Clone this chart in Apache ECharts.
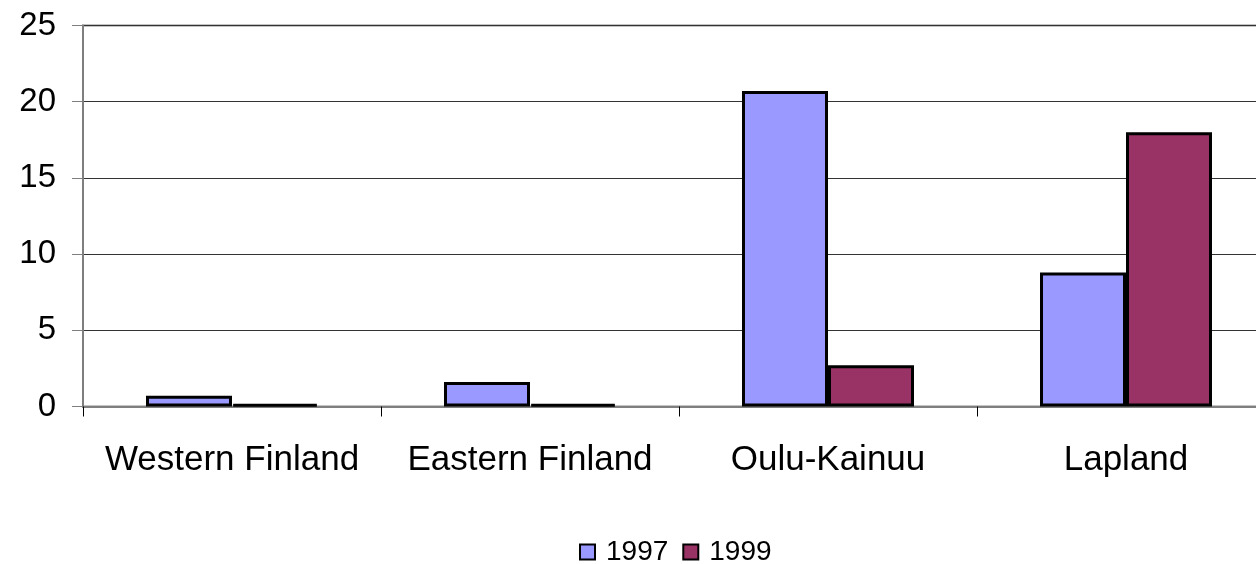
<!DOCTYPE html>
<html>
<head>
<meta charset="utf-8">
<script src="https://cdn.jsdelivr.net/npm/echarts@6/dist/echarts.min.js"></script>
<style>
  html, body { margin: 0; padding: 0; background: #fff; overflow: hidden; }
  /* the plot area runs a little past the right edge of the window */
  #chart { width: 1280px; height: 564px; }
</style>
</head>
<body>
<div id="chart"></div>
<script>
// Regions and yearly values
const regions = ['Western Finland', 'Eastern Finland', 'Oulu-Kainuu', 'Lapland'];
const years = ['1997', '1999'];
const values1997 = [0.7, 1.6, 20.7, 8.8];
const values1999 = [0.15, 0.15, 2.7, 18.0];
const yTicks = { min: 0, max: 25, interval: 5 };

const FONT = '"Liberation Sans", Arial, sans-serif';
const chart = echarts.init(document.getElementById('chart'), null, { renderer: 'canvas' });

chart.setOption({
  animation: false,
  backgroundColor: '#ffffff',
  textStyle: { fontFamily: FONT },
  grid: {
    left: 83, top: 25.5, width: 1192, height: 381,
    show: true, borderColor: '#8a8a8a', borderWidth: 2, backgroundColor: 'transparent'
  },
  legend: {
    data: years,
    top: 533,
    left: 574,
    icon: 'rect',
    itemWidth: 15,
    itemHeight: 15,
    itemGap: 14,
    textStyle: { fontSize: 28, color: '#000', fontFamily: FONT, padding: [0, 0, 0, 6] }
  },
  xAxis: {
    type: 'category',
    data: regions,
    axisLine: { show: true, lineStyle: { color: '#7f7f7f', width: 2 } },
    axisTick: { show: true, length: 10, interval: 0, lineStyle: { color: '#000', width: 1 } },
    axisLabel: { fontSize: 35, color: '#000', margin: 36, interval: 0, fontFamily: FONT },
    splitLine: { show: false }
  },
  yAxis: {
    type: 'value',
    min: yTicks.min, max: yTicks.max, interval: yTicks.interval,
    axisLine: { show: true, lineStyle: { color: '#7f7f7f', width: 2 } },
    axisTick: { show: true, length: 11, lineStyle: { color: '#7f7f7f', width: 1 } },
    axisLabel: { fontSize: 33, color: '#000', margin: 27, fontFamily: FONT },
    splitLine: { show: true, lineStyle: { color: '#333333', width: 1 } }
  },
  series: [
    {
      name: years[0],
      type: 'bar',
      data: values1997,
      barWidth: 86,
      barGap: '0%',
      itemStyle: { color: '#9999ff', borderColor: '#000', borderWidth: 3 }
    },
    {
      name: years[1],
      type: 'bar',
      data: values1999,
      barWidth: 86,
      barGap: '0%',
      itemStyle: { color: '#993366', borderColor: '#000', borderWidth: 3 }
    }
  ]
});
</script>
</body>
</html>
